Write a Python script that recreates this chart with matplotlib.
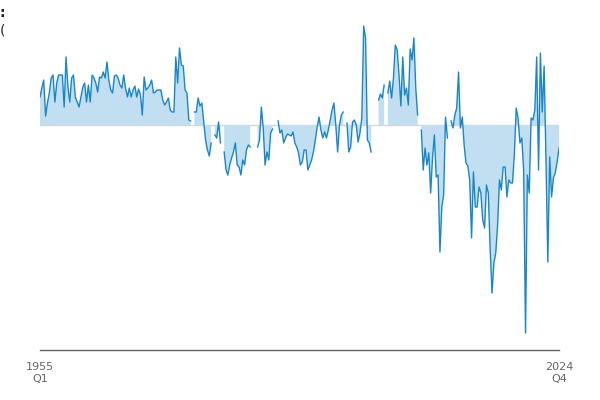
import matplotlib
matplotlib.use("Agg")
import matplotlib.pyplot as plt
import numpy as np

nan = np.nan

# quarterly series, 1955 Q1 .. 2024 Q4 (gaps are missing quarters)
values = [
    2.8, 3.7, 4.5, 0.9, 2.2, 3.2, 4.7, 5.0, 2.3, 4.2, 5.0, 5.0, 5.0, 1.8, 6.8, 3.8, 2.3, 4.7, 5.0, 2.8,
    2.3, 1.8, 2.8, 3.8, 4.2, 2.3, 4.0, 2.3, 5.0, 4.7, 4.2, 3.3, 4.8, 4.7, 5.3, 4.7, 6.3, 4.5, 3.5, 3.2,
    4.9, 5.0, 4.7, 4.0, 3.7, 5.0, 3.7, 2.8, 3.7, 2.8, 3.5, 3.9, 2.8, 3.6, 3.0, 1.0, 4.8, 3.5, 3.7, 4.0,
    4.5, 3.2, 3.3, 3.5, 3.5, 3.5, 2.5, 2.0, 2.3, 2.7, 1.5, 1.3, 1.3, 6.8, 4.2, 7.7, 6.0, 5.9, 3.5, 3.2,
    0.5, 0.4, nan, 1.3, 1.3, 2.7, 1.9, 2.2, 0.3, -1.5, -2.5, -3.1, -1.8, nan, -1.0, -1.3, 0.3, -1.8, nan, -2.7,
    -4.5, -5.0, -4.0, -3.3, -2.7, -1.8, -4.0, -4.2, -5.0, -3.5, -4.0, -2.5, -2.0, -2.2, nan, nan, nan, -2.2, -1.5, 1.8,
    -0.3, -4.0, -2.7, -3.5, -0.8, -0.4, nan, nan, 0.4, -0.8, -0.5, -1.8, -1.3, -0.9, -1.0, -1.1, -0.7, -1.8, -2.2, -2.8,
    -4.0, -3.7, -2.5, -2.5, -4.5, -4.0, -3.5, -2.7, -1.5, -0.2, 0.8, -0.5, -1.3, -0.7, -1.3, -0.5, 0.5, 1.5, 2.2, 0.0,
    -2.7, 0.0, 1.0, 1.3, nan, 0.2, -2.7, -2.2, 0.3, 0.5, 0.0, -1.7, -0.8, 0.7, 9.9, 8.7, -1.5, -1.8, -2.7, nan,
    nan, nan, 2.5, 3.1, 2.7, 4.0, nan, 3.2, 4.4, 2.7, 4.7, 8.0, 7.5, 5.0, 1.9, 6.8, 3.0, 3.7, 2.0, 7.6,
    6.5, 8.7, 3.7, 1.0, nan, -0.5, -4.5, -2.3, -4.0, -2.8, -6.8, -3.3, -1.0, -5.2, -5.0, -12.7, -8.2, -7.0, 0.8, -1.3,
    nan, 0.4, -0.3, 1.0, 1.7, 5.3, -0.3, 0.8, -2.0, -3.8, -4.1, -5.5, -11.3, -4.7, -8.2, -8.2, -6.2, -6.8, -9.5, -10.3,
    -6.0, -6.8, -12.5, -16.8, -13.8, -12.8, -10.0, -5.5, -6.5, -4.2, -4.2, -7.2, -5.5, -5.8, -5.8, -3.0, 1.7, 0.7, -1.8, -1.3,
    -4.5, -20.8, -5.0, -6.8, 0.7, 0.5, 1.5, 6.8, -4.5, 7.2, 1.3, 5.9, -3.5, -13.7, -3.2, -7.2, -5.3, -4.8, -3.7, -2.3,
]
tick_labels = ["1955\nQ1", "2024\nQ4"]

y = np.array(values, dtype=float)
x = np.arange(len(y))

fig = plt.figure(figsize=(6, 4), dpi=100)
ax = fig.add_axes([40 / 600, 0.125, 519 / 600, 0.825])

ax.axhline(0, color="#d6d6d6", lw=1, zorder=1)
ax.fill_between(x, 0, y, color="#c2dff1", lw=0, zorder=2)
ax.plot(x, y, color="#1a86c8", lw=1, zorder=3)

ax.set_xlim(0, len(y) - 1)
ax.set_ylim(-22.5, 10.5)
ax.set_xticks([0, len(y) - 1])
ax.set_xticklabels(tick_labels, fontsize=8, color="#666666")
ax.tick_params(axis="x", length=0, pad=9)
ax.set_yticks([])
for side in ("top", "right", "left"):
    ax.spines[side].set_visible(False)
ax.spines["bottom"].set_color("#666666")
ax.spines["bottom"].set_linewidth(1)

# clipped title remnants at the top-left corner
fig.text(0.008, 0.985, ":", ha="right", va="top", fontsize=10, weight="bold", color="#222222")
fig.text(0.008, 0.94, "(", ha="right", va="top", fontsize=10, color="#222222")

fig.savefig("out.png", dpi=100)
